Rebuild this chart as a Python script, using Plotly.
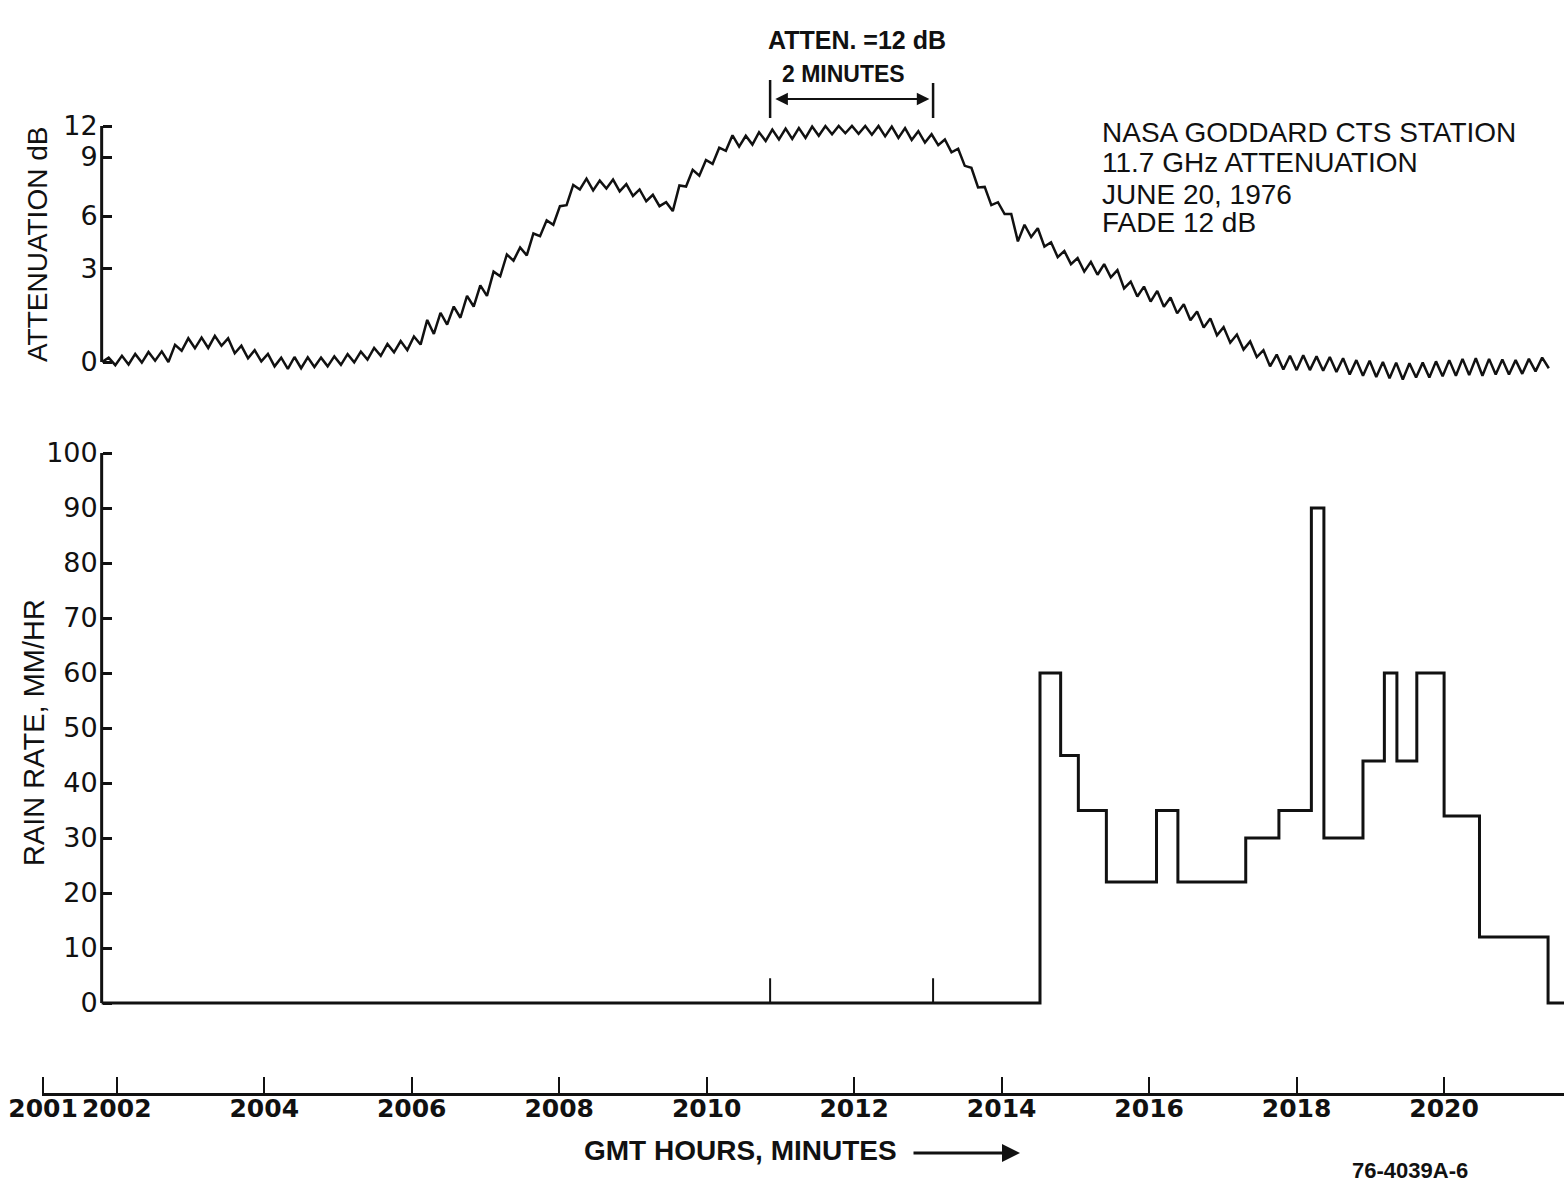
import numpy as np
import plotly.graph_objects as go

W, H = 1564, 1187

# ---- time axis: minutes after 20:00 GMT ----
time_ticks = [1, 2, 4, 6, 8, 10, 12, 14, 16, 18, 20]
time_tick_labels = ["2001", "2002", "2004", "2006", "2008", "2010",
                    "2012", "2014", "2016", "2018", "2020"]
T_LEFT, T_RIGHT = 0.986, 21.626
AXIS_T0 = 1.795          # where both panel value axes stand

# ---- 11.7 GHz attenuation record (dB), sampled every 0.09 min from 20:01.8 ----
att_t0 = 1.80
att_step = 0.09
att_db = [
    0.00, 0.14, -0.10, 0.20, -0.08, 0.26, -0.02, 0.32, 0.04, 0.34,
    0.00, 0.55, 0.36, 0.76, 0.44, 0.78, 0.45, 0.84, 0.52, 0.76,
    0.28, 0.52, 0.12, 0.38, 0.02, 0.26, -0.14, 0.14, -0.22, 0.16,
    -0.20, 0.15, -0.16, 0.14, -0.14, 0.18, -0.09, 0.25, -0.01, 0.33,
    0.08, 0.45, 0.20, 0.58, 0.31, 0.67, 0.38, 0.82, 0.56, 1.35,
    0.90, 1.58, 1.20, 1.78, 1.42, 2.12, 1.78, 2.46, 2.12, 2.90,
    2.75, 3.80, 3.45, 4.20, 3.75, 5.00, 4.85, 5.75, 5.50, 6.50,
    6.55, 7.58, 7.35, 7.90, 7.30, 7.80, 7.40, 7.85, 7.25, 7.62,
    7.02, 7.35, 6.75, 7.08, 6.50, 6.70, 6.25, 7.55, 7.50, 8.35,
    8.05, 8.85, 8.65, 9.90, 9.60, 11.10, 10.00, 11.05, 10.20, 11.40,
    10.55, 11.65, 10.70, 11.75, 10.75, 11.80, 10.85, 11.95, 11.05, 12.15,
    11.20, 12.25, 11.30, 12.30, 11.25, 12.20, 11.15, 12.10, 11.00, 11.95,
    10.85, 11.80, 10.65, 11.50, 10.40, 11.20, 10.15, 10.70, 9.45, 9.80,
    8.55, 8.45, 7.45, 7.48, 6.55, 6.70, 6.10, 6.10, 4.55, 5.50,
    4.80, 5.30, 4.25, 4.50, 3.65, 4.00, 3.25, 3.60, 2.90, 3.38,
    2.80, 3.25, 2.72, 2.95, 2.36, 2.58, 2.10, 2.42, 1.94, 2.28,
    1.77, 2.07, 1.56, 1.85, 1.34, 1.62, 1.11, 1.40, 0.86, 1.12,
    0.62, 0.88, 0.40, 0.66, 0.16, 0.38, -0.14, 0.24, -0.24, 0.20,
    -0.26, 0.22, -0.26, 0.18, -0.28, 0.16, -0.32, 0.12, -0.40, 0.06,
    -0.44, 0.04, -0.48, 0.00, -0.52, -0.02, -0.56, -0.04, -0.50, -0.02,
    -0.50, 0.02, -0.46, 0.06, -0.44, 0.10, -0.42, 0.12, -0.44, 0.10,
    -0.40, 0.08, -0.40, 0.06, -0.38, 0.10, -0.30, 0.14, -0.20,
]

# recorder scale is not linear in dB: calibration marks vs pen deflection
scale_db = [0, 3, 6, 9, 12]
scale_defl = [0, 93.5, 146, 205, 236]
scale_labels = ["0", "3", "6", "9", "12"]

# ---- rain gauge: step edges (minutes) and rate in each interval (mm/hr) ----
rain_edges = [14.52, 14.80, 15.04, 15.42, 16.10, 16.39, 17.31, 17.76, 18.20,
              18.37, 18.90, 19.19, 19.36, 19.63, 20.00, 20.48, 21.41]
rain_rates = [60, 45, 35, 22, 35, 22, 30, 35, 90, 30, 44, 60, 44, 60, 34, 12]
rain_ticks = [0, 10, 20, 30, 40, 50, 60, 70, 80, 90, 100]

# two-minute reference interval marked on both panels
MARK_A, MARK_B = 10.86, 13.07


def deflection(db):
    db = np.asarray(db, dtype=float)
    lin = db * scale_defl[1] / scale_db[1]
    return np.where(db < 0, lin, np.interp(db, scale_db, scale_defl))


def px(x):
    return x / W


def py(y):
    return 1 - y / H


att_t = att_t0 + att_step * np.arange(len(att_db))
att_y = deflection(att_db)

rain_x = [AXIS_T0] + rain_edges + [T_RIGHT]
rain_y = [0] + rain_rates + [0, 0]

FONT = "Liberation Sans, Arial, sans-serif"
ROUND = "DejaVu Sans, Verdana, sans-serif"
INK = "#111111"

fig = go.Figure()
fig.add_trace(go.Scatter(x=att_t, y=att_y, mode="lines",
                         line=dict(color=INK, width=2.5), xaxis="x", yaxis="y",
                         hoverinfo="skip"))
fig.add_trace(go.Scatter(x=rain_x, y=rain_y, mode="lines",
                         line=dict(color=INK, width=3, shape="hv"),
                         xaxis="x", yaxis="y2", hoverinfo="skip"))
fig.add_trace(go.Scatter(x=[T_LEFT], y=[0.5], mode="markers",
                         marker=dict(opacity=0), xaxis="x", yaxis="y3",
                         hoverinfo="skip"))

shapes = [
    # value axes
    dict(type="line", xref="x", yref="y", x0=AXIS_T0, x1=AXIS_T0,
         y0=0, y1=scale_defl[-1], line=dict(color=INK, width=3)),
    dict(type="line", xref="x", yref="y2", x0=AXIS_T0, x1=AXIS_T0,
         y0=0, y1=100, line=dict(color=INK, width=3)),
    # interval marks on rain baseline
    dict(type="line", xref="x", yref="y2", x0=MARK_A, x1=MARK_A,
         y0=0, y1=4.5, line=dict(color=INK, width=2)),
    dict(type="line", xref="x", yref="y2", x0=MARK_B, x1=MARK_B,
         y0=0, y1=4.5, line=dict(color=INK, width=2)),
    # bracket ends above the attenuation trace
    dict(type="line", xref="x", yref="paper", x0=MARK_A, x1=MARK_A,
         y0=py(118), y1=py(80), line=dict(color=INK, width=2.5)),
    dict(type="line", xref="x", yref="paper", x0=MARK_B, x1=MARK_B,
         y0=py(118), y1=py(83), line=dict(color=INK, width=2.5)),
]


def label(text, x, y, font, **kw):
    d = dict(text=text, x=px(x), y=py(y), xref="paper", yref="paper",
             xanchor="center", yanchor="middle", showarrow=False, font=font)
    d.update(kw)
    return d


annotations = [
    label("ATTEN. =12 dB", 857, 40, dict(family=FONT, size=25, color=INK, weight="bold")),
    label("2 MINUTES", 844, 74, dict(family=FONT, size=23, color=INK, weight="bold")),
    dict(text="", x=MARK_B - 0.05, y=py(99), xref="x", yref="paper",
         ax=MARK_A + 0.05, ay=0, axref="x", ayref="pixel",
         showarrow=True, arrowside="end+start", arrowhead=2, arrowsize=1.4,
         arrowwidth=1.8, arrowcolor=INK),
    label("ATTENUATION dB", 38, 245, dict(family=FONT, size=28, color=INK), textangle=-90),
    label("RAIN RATE, MM/HR", 34, 733, dict(family=FONT, size=29, color=INK), textangle=-90),
    label("GMT HOURS, MINUTES", 740, 1150, dict(family=FONT, size=28, color=INK, weight="bold")),
    dict(text="", x=px(1020), y=py(1153), xref="paper", yref="paper",
         ax=-108, ay=0, axref="pixel", ayref="pixel", showarrow=True,
         arrowhead=2, arrowsize=1.2, arrowwidth=3, arrowcolor=INK),
    label("76-4039A-6", 1410, 1170, dict(family=FONT, size=22, color=INK, weight="bold")),
]

station_lines = ["NASA GODDARD CTS STATION", "11.7 GHz ATTENUATION",
                 "JUNE 20, 1976", "FADE 12 dB"]
for line, yc in zip(station_lines, [132, 162, 194, 223]):
    annotations.append(label(line, 1100, yc, dict(family=FONT, size=28, color=INK),
                             xanchor="left"))

fig.update_layout(
    width=W, height=H,
    margin=dict(l=0, r=0, t=0, b=0, autoexpand=False),
    paper_bgcolor="white", plot_bgcolor="white",
    showlegend=False,
    xaxis=dict(domain=[px(42), 1], range=[T_LEFT, T_RIGHT], anchor="y3",
               automargin=False,
               tickmode="array", tickvals=time_ticks, ticktext=time_tick_labels,
               ticks="inside", ticklen=16, tickwidth=2, tickcolor=INK,
               ticklabelstandoff=-9,
               showline=True, linewidth=3, linecolor=INK,
               showgrid=False, zeroline=False,
               tickfont=dict(family=ROUND, size=25, color=INK, weight="bold")),
    yaxis=dict(domain=[py(395), py(110)], range=[-33, 252],
               anchor="free", position=px(101.7), automargin=False,
               tickmode="array", tickvals=scale_defl, ticktext=scale_labels,
               ticks="inside", ticklen=9, tickwidth=2.5, tickcolor=INK,
               ticklabelstandoff=4,
               showline=False, showgrid=False, zeroline=False,
               tickfont=dict(family=ROUND, size=27, color=INK)),
    yaxis2=dict(domain=[py(1012), py(440)], range=[-1.636, 102.364],
                anchor="free", position=px(101.7), automargin=False,
                tickmode="array", tickvals=rain_ticks,
                ticks="inside", ticklen=9, tickwidth=2.5, tickcolor=INK,
                ticklabelstandoff=4,
                showline=False, showgrid=False, zeroline=False,
                tickfont=dict(family=ROUND, size=27, color=INK)),
    yaxis3=dict(domain=[py(1093), py(1060)], range=[0, 1], visible=False,
                automargin=False),
    shapes=shapes,
    annotations=annotations,
)

fig.write_html("out.html")
